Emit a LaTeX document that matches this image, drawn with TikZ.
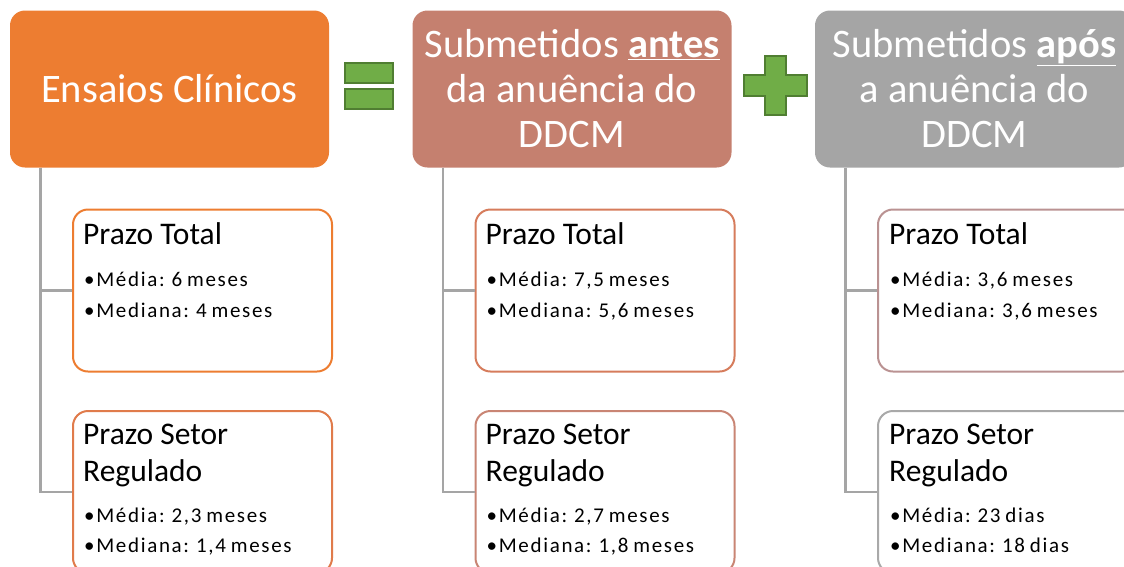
\documentclass[tikz,border=0pt]{standalone}
\usepackage{fontspec}
\setmainfont{Carlito}
\newfontfamily\bulfont{Carlito}[LetterSpace=8,WordSpace=0.75]
\usetikzlibrary{calc}
\definecolor{hOne}{HTML}{ED7D31}
\definecolor{hTwo}{HTML}{C5806F}
\definecolor{hThree}{HTML}{A5A5A5}
\definecolor{bOneA}{HTML}{ED7D31}
\definecolor{bOneB}{HTML}{E07B4B}
\definecolor{bTwoA}{HTML}{D67C5C}
\definecolor{bTwoB}{HTML}{C98574}
\definecolor{bThreeA}{HTML}{BA9292}
\definecolor{bThreeB}{HTML}{A9A9A9}
\definecolor{lineg}{HTML}{A5A5A5}
\definecolor{grnF}{HTML}{70AD47}
\definecolor{grnD}{HTML}{507E32}
\begin{document}
\begin{tikzpicture}[x=1pt,y=-1pt,
  head/.style={rectangle, rounded corners=15pt, minimum width=319pt, minimum height=157pt,
    text=white, align=center, inner sep=0pt, font=\fontsize{40.5}{45}\selectfont},
  childbox/.style={rectangle, rounded corners=15pt, draw, line width=2pt, fill=white,
    minimum width=259pt, minimum height=162pt, inner sep=0pt},
  ttl/.style={anchor=base west, inner sep=0pt, font=\fontsize{31.5}{37}\selectfont},
  bul/.style={anchor=base west, inner sep=0pt, font=\bulfont\fontsize{21}{30}\selectfont},
  conn/.style={draw=lineg, line width=2.5pt},
  signshape/.style={fill=grnF, draw=grnD, line width=2pt}]
\useasboundingbox (0,0) rectangle (1124,566);
\clip (0,0) rectangle (1124,566);
% headers
\node[head, fill=hOne] (h1) at (169.5,89) {Ensaios Clínicos};
\node[head, fill=hTwo] (h2) at (572,89) {Submetidos \underline{\textbf{antes}}\\da anuência do\\DDCM};
\node[head, fill=hThree] (h3) at (974.5,89) {Submetidos \underline{\textbf{após}}\\a anuência do\\DDCM};
% child boxes
\node[childbox, draw=bOneA] (c11) at (202.5,290.5) {};
\node[childbox, draw=bOneB] (c12) at (202.5,492) {};
\node[childbox, draw=bTwoA] (c21) at (605,290.5) {};
\node[childbox, draw=bTwoB] (c22) at (605,492) {};
\node[childbox, draw=bThreeA] (c31) at (1007.5,290.5) {};
\node[childbox, draw=bThreeB] (c32) at (1007.5,492) {};
% connectors
\foreach \h/\a/\b in {h1/c11/c12, h2/c21/c22, h3/c31/c32}{
  \draw[conn] ($(\h.south west)+(30.5,0)$) |- (\b.west);
  \draw[conn] ($(\h.south west)+(30.5,0)$) |- (\a.west);
}
% texts column 1
\node[ttl] (t11) at ($(c11.north west)+(11,36)$) {Prazo Total};
\node[bul] (t11a) at ($(c11.north west)+(12,78)$) {•Média: 6 meses};
\node[bul] (t11b) at ($(c11.north west)+(12,109)$) {•Mediana: 4 meses};
\node[ttl] (t12) at ($(c12.north west)+(11,34)$) {Prazo Setor};
\node[ttl] (t12r) at ($(c12.north west)+(11,71)$) {Regulado};
\node[bul] (t12a) at ($(c12.north west)+(12,112)$) {•Média: 2,3 meses};
\node[bul] (t12b) at ($(c12.north west)+(12,142)$) {•Mediana: 1,4 meses};
% texts column 2
\node[ttl] (t21) at ($(c21.north west)+(11,36)$) {Prazo Total};
\node[bul] (t21a) at ($(c21.north west)+(12,78)$) {•Média: 7,5 meses};
\node[bul] (t21b) at ($(c21.north west)+(12,109)$) {•Mediana: 5,6 meses};
\node[ttl] (t22) at ($(c22.north west)+(11,34)$) {Prazo Setor};
\node[ttl] (t22r) at ($(c22.north west)+(11,71)$) {Regulado};
\node[bul] (t22a) at ($(c22.north west)+(12,112)$) {•Média: 2,7 meses};
\node[bul] (t22b) at ($(c22.north west)+(12,142)$) {•Mediana: 1,8 meses};
% texts column 3
\node[ttl] (t31) at ($(c31.north west)+(12,36)$) {Prazo Total};
\node[bul] (t31a) at ($(c31.north west)+(13,78)$) {•Média: 3,6 meses};
\node[bul] (t31b) at ($(c31.north west)+(13,109)$) {•Mediana: 3,6 meses};
\node[ttl] (t32) at ($(c32.north west)+(12,34)$) {Prazo Setor};
\node[ttl] (t32r) at ($(c32.north west)+(12,71)$) {Regulado};
\node[bul] (t32a) at ($(c32.north west)+(13,112)$) {•Média: 23 dias};
\node[bul] (t32b) at ($(c32.north west)+(13,142)$) {•Mediana: 18 dias};
% equals sign
\draw[signshape] (345,63) rectangle (393,83);
\draw[signshape] (345,89) rectangle (393,109);
% plus sign
\draw[signshape] (765,56) -- (786,56) -- (786,75) -- (807,75) -- (807,96) -- (786,96)
  -- (786,115) -- (765,115) -- (765,96) -- (744,96) -- (744,75) -- (765,75) -- cycle;
\end{tikzpicture}
\end{document}
